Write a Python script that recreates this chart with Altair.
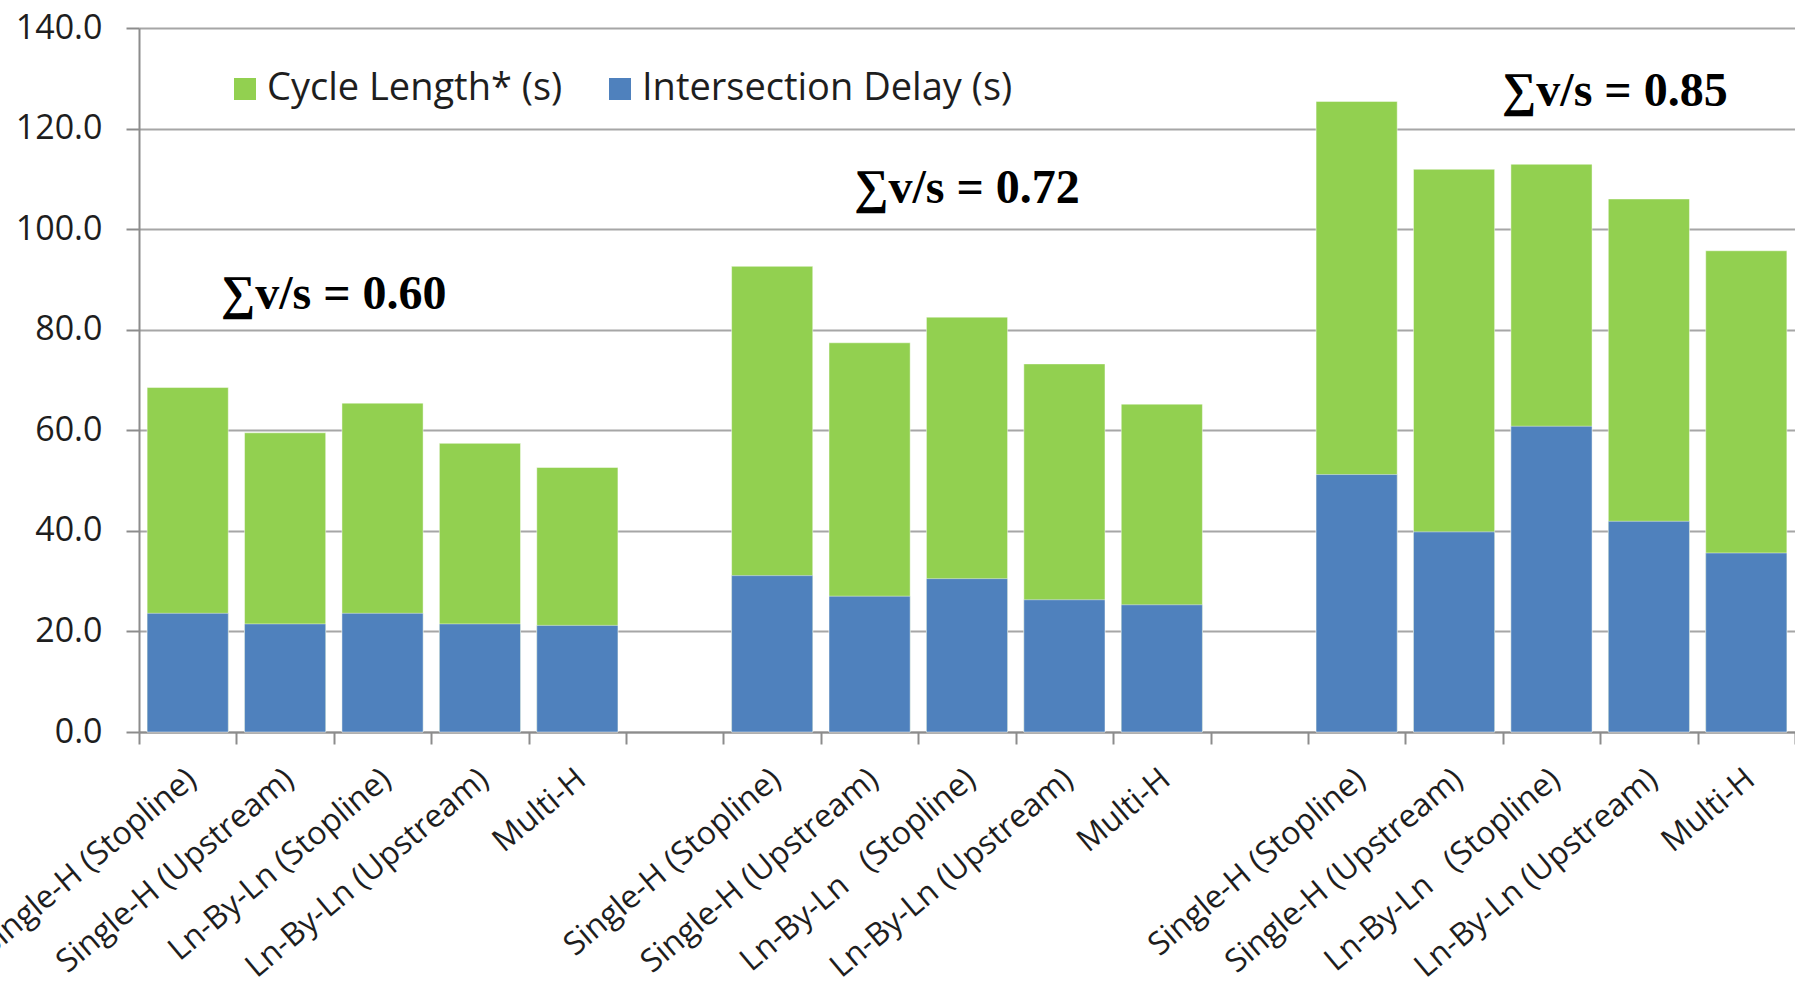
import altair as alt
import pandas as pd

# ---- data -------------------------------------------------------------
GROUP1_METHODS = ["Single-H (Stopline)", "Single-H (Upstream)", "Ln-By-Ln (Stopline)",
                  "Ln-By-Ln (Upstream)", "Multi-H"]
# non-breaking spaces keep the wider gap from collapsing in SVG text
GROUP23_METHODS = ["Single-H (Stopline)", "Single-H (Upstream)", "Ln-By-Ln\u00a0\u00a0 (Stopline)",
                   "Ln-By-Ln (Upstream)", "Multi-H"]
VS_LABELS = ["\u2211v/s = 0.60", "\u2211v/s = 0.72", "\u2211v/s = 0.85"]

SERIES = ["Cycle Length* (s)", "Intersection Delay (s)"]
CYCLE_LENGTH = [
    [68.5, 59.5, 65.4, 57.4, 52.6],
    [92.6, 77.4, 82.5, 73.2, 65.2],
    [125.4, 111.9, 112.9, 106.0, 95.7],
]
INTERSECTION_DELAY = [
    [23.6, 21.5, 23.6, 21.5, 21.2],
    [31.1, 27.0, 30.5, 26.3, 25.3],
    [51.2, 39.8, 60.8, 41.9, 35.6],
]
Y_TICKS = [0, 20, 40, 60, 80, 100, 120, 140]

# ---- styling ----------------------------------------------------------
COLORS = ["#92D050", "#4F81BD"]
SANS = "Open Sans"
SERIF = "Liberation Serif"
AXIS_GRAY = "#8C8C8C"
GRID_GRAY = "#A6A6A6"
TEXT = "#1E1E1E"

# each group of five bars is followed by one empty slot
SLOTS_PER_GROUP = 6
N_SLOTS = 17
BAR_FRACTION = 0.833

rows = []
for name, table in zip(SERIES, [CYCLE_LENGTH, INTERSECTION_DELAY]):
    for g, values in enumerate(table):
        for i, v in enumerate(values):
            rows.append({"slot": g * SLOTS_PER_GROUP + i, "series": name, "value": v})
bars_df = pd.DataFrame(rows)

tick_labels = []
for g in range(3):
    tick_labels += (GROUP1_METHODS if g == 0 else GROUP23_METHODS) + [""]
tick_labels = tick_labels[:N_SLOTS]
label_expr = "[" + ",".join("'" + t + "'" for t in tick_labels) + "][datum.value]"

# bands fill each slot completely so the category ticks fall between slots;
# the bars themselves take a fraction of the band
x_scale = alt.Scale(domain=list(range(N_SLOTS)), paddingInner=0, paddingOuter=0)
y_scale = alt.Scale(domain=[0, 140], nice=False)

x_enc = alt.X(
    "slot:O",
    scale=x_scale,
    title=None,
    axis=alt.Axis(
        labelExpr=label_expr,
        labelAngle=320,
        labelAlign="right",
        labelBaseline="top",
        labelOffset=-6,
        labelPadding=19,
        labelFont=SANS,
        labelFontSize=32,
        labelColor=TEXT,
        labelOverlap=False,
        labelBound=False,
        labelFlush=False,
        labelLimit=0,
        tickBand="extent",
        tickSize=12,
        tickWidth=2,
        tickColor=AXIS_GRAY,
        domainColor=AXIS_GRAY,
        domainWidth=2,
        grid=False,
    ),
)

y_enc = alt.Y(
    "value:Q",
    scale=y_scale,
    stack=None,
    title=None,
    axis=alt.Axis(
        values=Y_TICKS,
        format=".1f",
        labelFont=SANS,
        labelFontSize=34,
        labelColor=TEXT,
        labelPadding=24,
        tickSize=13,
        tickWidth=2,
        tickColor=AXIS_GRAY,
        domainColor=AXIS_GRAY,
        domainWidth=2,
        gridColor=GRID_GRAY,
        gridWidth=2,
    ),
)

bars = alt.Chart(bars_df).mark_bar(
    width=alt.RelativeBandSize(BAR_FRACTION),
    stroke="white", strokeWidth=1, strokeOpacity=0.45,
).encode(
    x=x_enc,
    y=y_enc,
    color=alt.Color(
        "series:N",
        scale=alt.Scale(domain=SERIES, range=COLORS),
        legend=alt.Legend(
            orient="none",
            legendX=87,
            legendY=42,
            direction="horizontal",
            title=None,
            symbolType="square",
            symbolSize=484,
            symbolStrokeWidth=0,
            symbolOpacity=1,
            labelFont=SANS,
            labelFontSize=38,
            labelColor=TEXT,
            labelLimit=0,
            labelOffset=3,
            columnPadding=38,
            padding=0,
        ),
    ),
)

# saturation-level annotations: (slot, y level, horizontal nudge in px)
ANNOTATION_ANCHORS = [(1, 84.1, 48.7), (8, 105.2, 0), (15, 124.4, -34)]

layers = [bars]
for text, (slot, level, nudge) in zip(VS_LABELS, ANNOTATION_ANCHORS):
    ann_df = pd.DataFrame({"slot": [slot], "value": [level], "label": [text]})
    layers.append(
        alt.Chart(ann_df).mark_text(
            font=SERIF, fontWeight="bold", fontSize=48, color="black",
            align="center", baseline="alphabetic", dx=nudge,
        ).encode(
            x=x_enc,
            y=y_enc,
            text="label:N",
        )
    )

chart = alt.layer(*layers).properties(
    width=1656,
    height=704,
    autosize=alt.AutoSizeParams(type="none"),
    padding={"left": 139, "top": 28, "right": 0, "bottom": 264},
    background="white",
).configure_view(strokeWidth=0)

chart.save("out.html", embed_options={"renderer": "svg", "actions": False})
